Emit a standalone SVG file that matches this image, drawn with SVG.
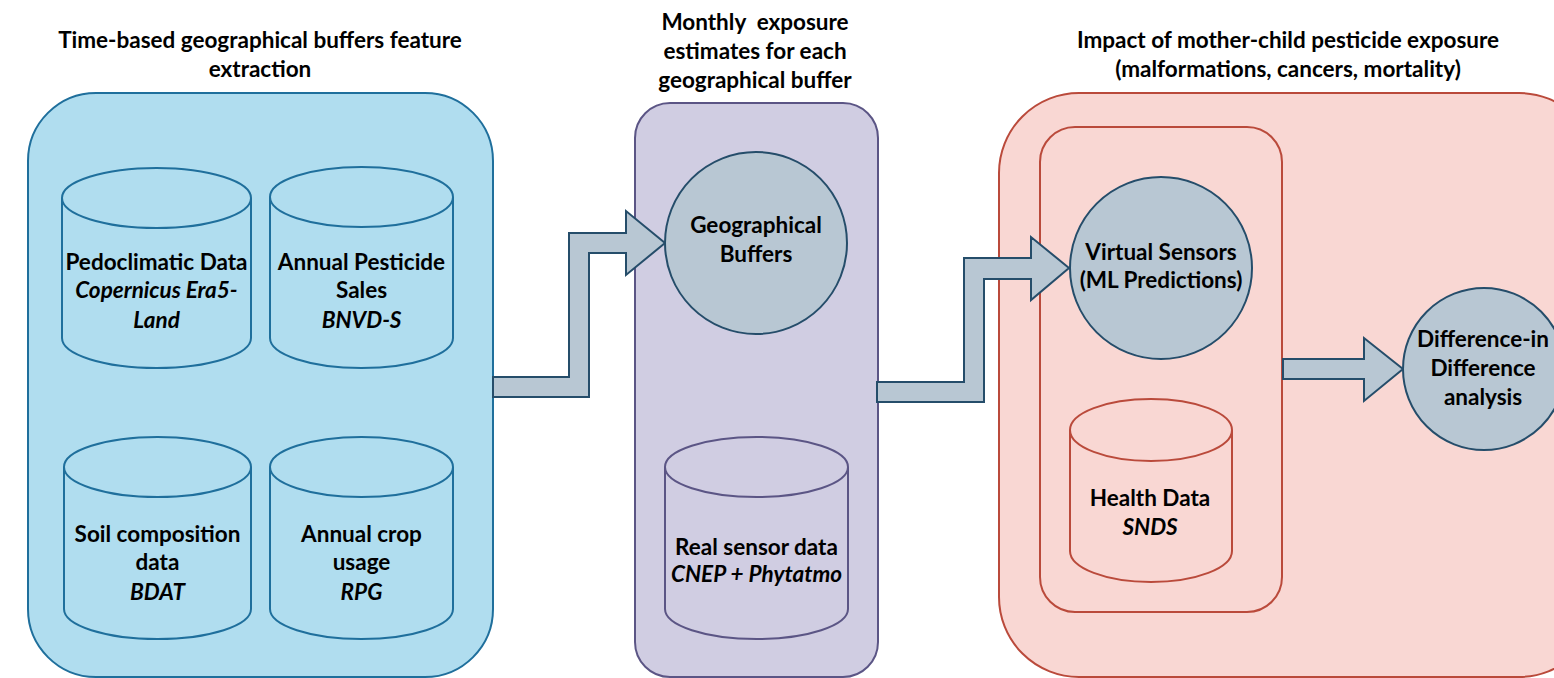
<svg xmlns="http://www.w3.org/2000/svg" width="1554" height="678" viewBox="0 0 1554 678">
<style>
text{font-family:Lato,"Liberation Sans",sans-serif;font-weight:bold;font-size:22.5px;fill:#000;text-anchor:middle}
.it{font-style:italic}
.pb{fill:#B0DDEF;stroke:#1F6F9C;stroke-width:2}
.pm{fill:#D0CDE2;stroke:#5B5585;stroke-width:2}
.pr{fill:#F9D7D3;stroke:#BA4A3B;stroke-width:2}
.circ{fill:#B8C7D3;stroke:#254D6A;stroke-width:2}
.arr{fill:#B8C7D3;stroke:#254D6A;stroke-width:2;stroke-linejoin:miter}
</style>
<rect width="1554" height="678" fill="#fff"/>

<!-- Panels -->
<g id="panel-features">
<rect class="pb" x="28" y="93" width="465" height="584" rx="68" ry="68"/>
<text x="260" y="48">Time-based geographical buffers feature</text>
<text x="260" y="77">extraction</text>
</g>
<g id="panel-exposure">
<rect class="pm" x="635" y="103" width="243" height="574" rx="35" ry="35"/>
<text x="755" y="30" xml:space="preserve">Monthly  exposure</text>
<text x="755" y="59">estimates for each</text>
<text x="755" y="88">geographical buffer</text>
</g>
<g id="panel-impact">
<rect class="pr" x="999" y="93" width="600" height="584" rx="80" ry="80"/>
<text x="1288" y="48">Impact of mother-child pesticide exposure</text>
<text x="1288" y="77">(malformations, cancers, mortality)</text>
</g>
<g id="panel-inner">
<rect class="pr" x="1040" y="127" width="242" height="485" rx="35" ry="35"/>
</g>

<!-- Cylinders -->
<g id="pedoclimatic">
<path class="pb" d="M62 198 V338 A94.5 30 0 0 0 251 338 V198"/>
<ellipse class="pb" cx="156.5" cy="198" rx="94.5" ry="30"/>
<text x="156.5" y="270">Pedoclimatic Data</text>
<text class="it" x="156.5" y="298">Copernicus Era5-</text>
<text class="it" x="156.5" y="328">Land</text>
</g>
<g id="pesticide-sales">
<path class="pb" d="M270 197 V338 A91.5 30 0 0 0 453 338 V197"/>
<ellipse class="pb" cx="361.5" cy="197" rx="91.5" ry="30"/>
<text x="361.5" y="270">Annual Pesticide</text>
<text x="361.5" y="298">Sales</text>
<text class="it" x="361.5" y="328">BNVD-S</text>
</g>
<g id="soil">
<path class="pb" d="M64 467 V609 A93.5 30 0 0 0 251 609 V467"/>
<ellipse class="pb" cx="157.5" cy="467" rx="93.5" ry="30"/>
<text x="157.5" y="542">Soil composition</text>
<text x="157.5" y="570">data</text>
<text class="it" x="157.5" y="600">BDAT</text>
</g>
<g id="crop-usage">
<path class="pb" d="M270 467 V609 A91.5 30 0 0 0 453 609 V467"/>
<ellipse class="pb" cx="361.5" cy="467" rx="91.5" ry="30"/>
<text x="361.5" y="542">Annual crop</text>
<text x="361.5" y="570">usage</text>
<text class="it" x="361.5" y="600">RPG</text>
</g>
<g id="real-sensor">
<path class="pm" d="M665 467 V609 A91.5 30 0 0 0 848 609 V467"/>
<ellipse class="pm" cx="756.5" cy="467" rx="91.5" ry="30"/>
<text x="756.5" y="555">Real sensor data</text>
<text class="it" x="756.5" y="582">CNEP + Phytatmo</text>
</g>
<g id="health-data">
<path class="pr" d="M1070 430 V551 A81 31 0 0 0 1232 551 V430"/>
<ellipse class="pr" cx="1151" cy="430" rx="81" ry="31"/>
<text x="1150" y="506">Health Data</text>
<text class="it" x="1150" y="535">SNDS</text>
</g>

<!-- Connectors -->
<g id="connectors">
<polygon class="arr" points="493,377 569,377 569,233 626,233 626,211 665,243 626,275 626,253 589,253 589,397 493,397"/>
<polygon class="arr" points="877,382 964,382 964,258 1031,258 1031,237 1069,268 1031,300 1031,279 984,279 984,402 877,402"/>
<polygon class="arr" points="1283,359 1364,359 1364,338 1403,369 1364,401 1364,379 1283,379"/>
</g>

<!-- Circles -->
<g id="geo-buffers">
<circle class="circ" cx="756" cy="243" r="91"/>
<text x="756" y="233">Geographical</text>
<text x="756" y="262">Buffers</text>
</g>
<g id="virtual-sensors">
<circle class="circ" cx="1161" cy="268" r="91"/>
<text x="1161" y="260">Virtual Sensors</text>
<text x="1161" y="288">(ML Predictions)</text>
</g>
<g id="did">
<circle class="circ" cx="1484" cy="369" r="81"/>
<text x="1483" y="347">Difference-in</text>
<text x="1483" y="376">Difference</text>
<text x="1483" y="405">analysis</text>
</g>
</svg>
